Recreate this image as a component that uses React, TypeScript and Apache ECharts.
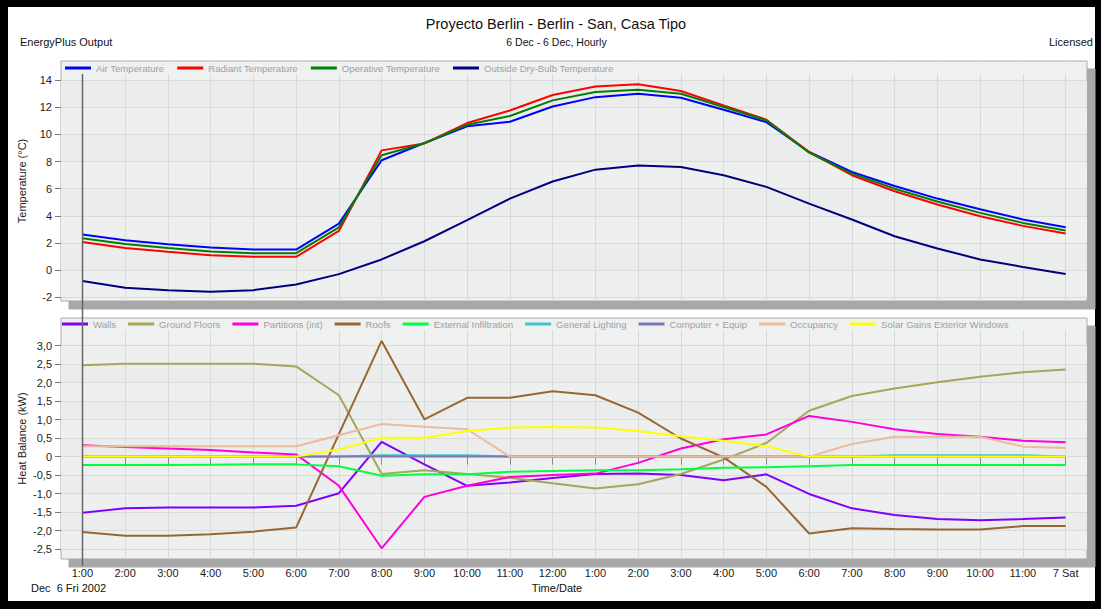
import React, { useEffect, useRef } from "react";
import * as echarts from "echarts";

const hours = [
  "1:00", "2:00", "3:00", "4:00", "5:00", "6:00", "7:00", "8:00", "9:00", "10:00", "11:00", "12:00",
  "1:00", "2:00", "3:00", "4:00", "5:00", "6:00", "7:00", "8:00", "9:00", "10:00", "11:00", "7 Sat",
];

const tempTicks = [-2, 0, 2, 4, 6, 8, 10, 12, 14];
const heatTicks = [-2.5, -2, -1.5, -1, -0.5, 0, 0.5, 1, 1.5, 2, 2.5, 3];

const airTemp = [2.62, 2.2, 1.91, 1.67, 1.52, 1.52, 3.43, 8.09, 9.36, 10.59, 10.93, 12.05, 12.74, 12.99, 12.7, 11.81, 10.9, 8.7, 7.23, 6.2, 5.27, 4.49, 3.73, 3.16];
const radiantTemp = [2.08, 1.64, 1.35, 1.1, 0.98, 0.98, 2.89, 8.82, 9.33, 10.83, 11.76, 12.9, 13.53, 13.68, 13.19, 12.13, 11.08, 8.7, 6.99, 5.81, 4.83, 3.97, 3.26, 2.7];
const operativeTemp = [2.35, 1.92, 1.63, 1.38, 1.25, 1.25, 3.15, 8.46, 9.34, 10.7, 11.35, 12.5, 13.11, 13.28, 12.99, 12.01, 11.03, 8.65, 7.11, 6.0, 5.05, 4.22, 3.48, 2.92];
const outsideTemp = [-0.79, -1.3, -1.47, -1.59, -1.47, -1.05, -0.29, 0.79, 2.13, 3.68, 5.27, 6.53, 7.4, 7.7, 7.6, 6.99, 6.13, 4.9, 3.73, 2.5, 1.6, 0.79, 0.24, -0.29];

const walls = [-1.52, -1.4, -1.38, -1.38, -1.38, -1.33, -0.99, 0.4, -0.21, -0.79, -0.7, -0.58, -0.47, -0.46, -0.5, -0.64, -0.48, -1.01, -1.4, -1.58, -1.69, -1.72, -1.69, -1.65];
const groundFloors = [2.47, 2.51, 2.51, 2.51, 2.51, 2.44, 1.66, -0.47, -0.37, -0.47, -0.57, -0.72, -0.86, -0.75, -0.47, -0.08, 0.37, 1.24, 1.64, 1.84, 2.01, 2.16, 2.28, 2.36];
const partitions = [0.31, 0.26, 0.22, 0.18, 0.11, 0.06, -0.79, -2.48, -1.09, -0.79, -0.55, -0.5, -0.46, -0.17, 0.22, 0.47, 0.6, 1.1, 0.94, 0.74, 0.61, 0.54, 0.43, 0.39];
const roofs = [-2.04, -2.14, -2.14, -2.1, -2.03, -1.92, 0.61, 3.13, 1.01, 1.59, 1.59, 1.77, 1.66, 1.19, 0.49, -0.02, -0.82, -2.08, -1.94, -1.96, -1.97, -1.97, -1.88, -1.88];
const infiltration = [-0.23, -0.23, -0.23, -0.22, -0.21, -0.21, -0.26, -0.52, -0.48, -0.48, -0.41, -0.39, -0.37, -0.37, -0.34, -0.3, -0.29, -0.26, -0.23, -0.23, -0.23, -0.23, -0.23, -0.23];
const lighting = [0, 0, 0, 0, 0, 0, 0, 0.04, 0.04, 0.04, 0, 0, 0, 0, 0, 0, 0, 0, 0, 0.04, 0.04, 0.04, 0.04, 0];
const computerEquip = [0, 0, 0, 0, 0, 0, 0, 0, 0, 0, 0, 0, 0, 0, 0, 0, 0, 0, 0, 0, 0, 0, 0, 0];
const occupancy = [0.28, 0.28, 0.28, 0.28, 0.28, 0.28, 0.58, 0.88, 0.81, 0.74, 0, 0, 0, 0, 0, 0, 0, 0, 0.34, 0.54, 0.54, 0.54, 0.27, 0.23];
const solarGains = [0, 0, 0, 0, 0, 0, 0.19, 0.51, 0.51, 0.69, 0.79, 0.8, 0.79, 0.69, 0.55, 0.43, 0.28, 0, 0, 0, 0, 0, 0, 0];

const tempSeries = [
  { name: "Air Temperature", data: airTemp, color: "#0000ff" },
  { name: "Radiant Temperature", data: radiantTemp, color: "#ff0000" },
  { name: "Operative Temperature", data: operativeTemp, color: "#008000" },
  { name: "Outside Dry-Bulb Temperature", data: outsideTemp, color: "#000080" },
];

const heatSeries = [
  { name: "Walls", data: walls, color: "#8000ff" },
  { name: "Ground Floors", data: groundFloors, color: "#a8a45a" },
  { name: "Partitions (int)", data: partitions, color: "#ff00dd" },
  { name: "Roofs", data: roofs, color: "#996633" },
  { name: "External Infiltration", data: infiltration, color: "#00ff40" },
  { name: "General Lighting", data: lighting, color: "#40c4c4" },
  { name: "Computer + Equip", data: computerEquip, color: "#7878b8" },
  { name: "Occupancy", data: occupancy, color: "#e8bc9c" },
  { name: "Solar Gains Exterior Windows", data: solarGains, color: "#ffff00" },
];

const FONT = "Liberation Sans, Arial, Helvetica, sans-serif";
const PANEL = "#eff0f0";
const GRIDLINE = "#dadada";

export default function App() {
  const ref = useRef<HTMLDivElement>(null);

  useEffect(() => {
    if (!ref.current) return;
    const chart = echarts.init(ref.current, null, { renderer: "svg" });

    const gridCommon = {
      left: 61,
      width: 1026,
      show: true,
      backgroundColor: PANEL,
      borderColor: "#a9a9a9",
      borderWidth: 1,
      shadowColor: "#a8a8a8",
      shadowBlur: 0,
      shadowOffsetX: 8,
      shadowOffsetY: 8,
    };

    const xCommon = {
      type: "category",
      data: hours,
      boundaryGap: true,
      axisLine: { show: false },
      splitLine: { show: true, interval: 0, alignWithLabel: true, lineStyle: { color: GRIDLINE, width: 1 } },
    };

    const yCommon = {
      type: "value",
      axisLine: { show: false },
      splitLine: { show: true, lineStyle: { color: GRIDLINE, width: 1 } },
      splitArea: { show: true, areaStyle: { color: ["#eef0f0", "#ebecec"] } },
      nameLocation: "middle",
      nameRotate: 90,
      nameGap: 34,
      nameMoveOverlap: false,
      nameTextStyle: { fontSize: 11, color: "#222", fontFamily: FONT },
    };

    const legendCommon = {
      padding: 0,
      itemWidth: 26,
      itemHeight: 3,
      itemGap: 13,
      icon: "rect",
      textStyle: { color: "#a0a0a0", fontSize: 9.6, fontFamily: FONT },
    };

    const textEl = (text: string, x: number, y: number, size: number, align: string) => ({
      type: "text",
      x,
      y,
      z: 10,
      style: {
        text,
        fill: "#111",
        fontSize: size,
        fontFamily: FONT,
        textAlign: align,
        textVerticalAlign: "middle",
        verticalAlign: "middle",
      },
    });

    const option: any = {
      animation: false,
      textStyle: { fontFamily: FONT },
      grid: [
        { ...gridCommon, top: 61, height: 240 },
        { ...gridCommon, top: 318, height: 241 },
      ],
      xAxis: [
        {
          ...xCommon,
          gridIndex: 0,
          axisTick: { show: false },
          axisLabel: { show: false, interval: 0 },
        },
        {
          ...xCommon,
          gridIndex: 1,
          axisTick: { show: true, interval: 0, alignWithLabel: true, length: 8, lineStyle: { color: "#8a8a8a" } },
          axisLabel: { show: true, interval: 0, fontSize: 11, color: "#222", margin: 8, fontFamily: FONT },
        },
      ],
      yAxis: [
        {
          ...yCommon,
          gridIndex: 0,
          min: -2.27,
          max: 15.4,
          name: "Temperature (°C)",
          axisTick: { show: true, customValues: tempTicks, length: 6, lineStyle: { color: "#777" } },
          axisLabel: {
            customValues: tempTicks,
            fontSize: 11,
            color: "#222",
            margin: 9,
            fontFamily: FONT,
            formatter: (v: number) => String(v),
          },
        },
        {
          ...yCommon,
          gridIndex: 1,
          min: -2.77,
          max: 3.75,
          name: "Heat Balance (kW)",
          axisTick: { show: true, customValues: heatTicks, length: 6, lineStyle: { color: "#777" } },
          axisLabel: {
            customValues: heatTicks,
            fontSize: 11,
            color: "#222",
            margin: 9,
            fontFamily: FONT,
            formatter: (v: number) => (Math.abs(v) < 1e-9 ? "0" : v.toFixed(1).replace(".", ",")),
          },
        },
      ],
      legend: [
        { ...legendCommon, left: 65, top: 63, data: tempSeries.map((s) => s.name) },
        { ...legendCommon, itemGap: 12, left: 62, top: 319, data: heatSeries.map((s) => s.name) },
      ],
      graphic: [
        { type: "rect", z: 3, shape: { x: 62, y: 62, width: 1024, height: 12 }, style: { fill: PANEL } },
        { type: "rect", z: 3, shape: { x: 62, y: 319, width: 1024, height: 11 }, style: { fill: PANEL } },
        { type: "line", z: 10, shape: { x1: 82.5, y1: 74, x2: 82.5, y2: 566 }, style: { stroke: "#666", lineWidth: 1.5 } },
        textEl("Proyecto Berlin - Berlin - San, Casa Tipo", 556, 24, 14.5, "center"),
        textEl("EnergyPlus Output", 20, 42, 11, "left"),
        textEl("6 Dec - 6 Dec, Hourly", 556.5, 42, 10.5, "center"),
        textEl("Licensed", 1093, 42, 11, "right"),
        textEl("Dec  6 Fri 2002", 31, 588, 11, "left"),
        textEl("Time/Date", 557, 588, 11, "center"),
      ],
      series: [
        ...tempSeries.map((s) => ({
          type: "line",
          name: s.name,
          data: s.data,
          xAxisIndex: 0,
          yAxisIndex: 0,
          symbol: "none",
          color: s.color,
          lineStyle: { color: s.color, width: 2 },
        })),
        ...heatSeries.map((s) => ({
          type: "line",
          name: s.name,
          data: s.data,
          xAxisIndex: 1,
          yAxisIndex: 1,
          symbol: "none",
          color: s.color,
          lineStyle: { color: s.color, width: 2 },
        })),
      ],
    };

    chart.setOption(option);
    return () => chart.dispose();
  }, []);

  return (
    <div style={{ position: "fixed", left: 0, top: 0, width: 1101, height: 609 }}>
      <div
        style={{
          position: "absolute",
          left: 0,
          top: 0,
          width: 1101,
          height: 609,
          boxSizing: "border-box",
          background: "#fff",
          borderStyle: "solid",
          borderColor: "#000",
          borderWidth: "7px 6px 8px 8px",
        }}
      />
      <div ref={ref} style={{ position: "absolute", left: 0, top: 0, width: 1101, height: 609 }} />
    </div>
  );
}
